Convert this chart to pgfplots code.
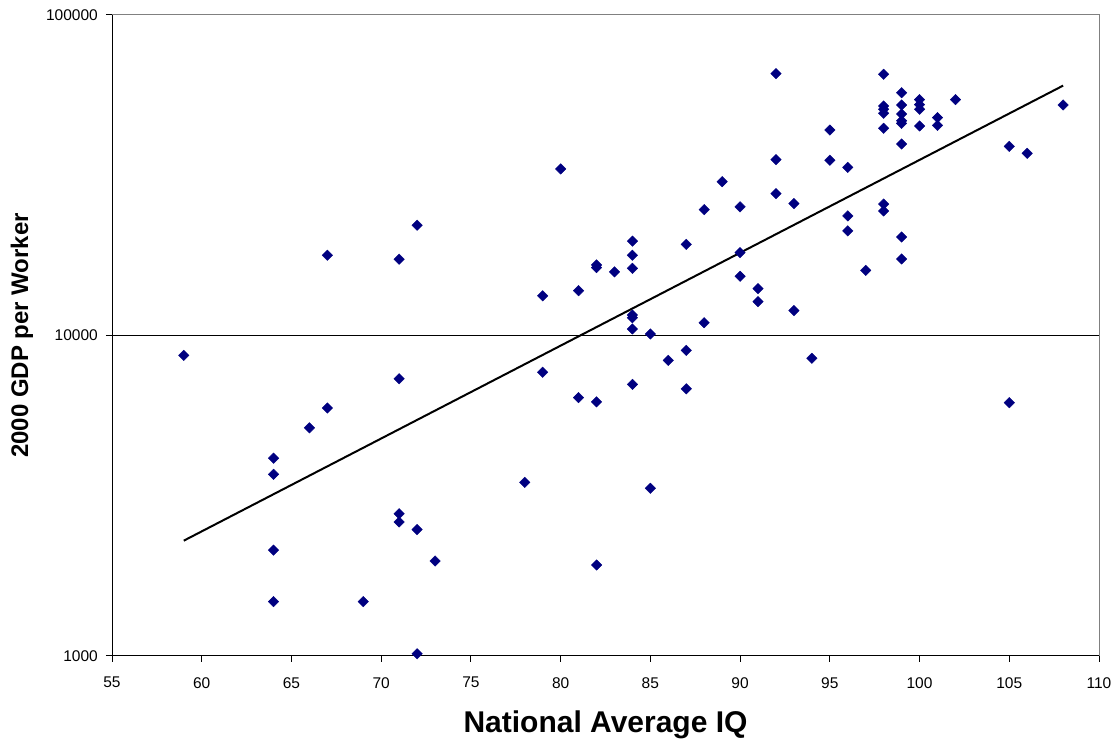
\documentclass[border=0pt]{standalone}
\usepackage{fontspec}
\setmainfont{Liberation Sans}
\usepackage{pgfplots}
\pgfplotsset{compat=1.18}
\definecolor{navyblue}{HTML}{000080}
\begin{document}
\begin{tikzpicture}
\useasboundingbox (0,0) rectangle (1119pt,742pt);
\begin{axis}[
  at={(112pt,86pt)}, anchor=south west,
  scale only axis, width=987pt, height=641pt,
  xmin=55, xmax=110,
  ymode=log, ymin=1000, ymax=100000,
  axis lines*=left,
  axis line style={black, line width=1pt},
  xtick={55,60,...,110},
  ytick={1000,10000,100000},
  yticklabels={1000,10000,100000},
  yminorticks=false,
  xminorticks=false,
  tick align=outside,
  major tick length=6pt,
  tick style={black, line width=1pt},
  /pgf/number format/assume math mode=true,
  /pgf/number format/1000 sep={},
  xticklabel style={font=\fontsize{15.5}{18}\selectfont, anchor=north, inner sep=0pt, yshift=-15pt},
  yticklabel style={font=\fontsize{15.5}{18}\selectfont, anchor=east, inner sep=0pt, xshift=-8pt},
  ymajorgrids=true,
  major grid style={black, line width=1pt},
  xlabel={National Average IQ},
  ylabel={2000 GDP per Worker},
  every axis x label/.style={at={(axis description cs:0.5,0)}, anchor=base, yshift=-77pt, font=\fontsize{30}{35}\selectfont\bfseries},
  every axis y label/.style={at={([xshift=-90pt]axis description cs:0,0.5)}, rotate=90, anchor=center, font=\fontsize{24}{28}\selectfont\bfseries},
  clip=false,
  after end axis/.code={\draw[gray, line width=1pt] (rel axis cs:0,1) -- (rel axis cs:1,1) -- (rel axis cs:1,0);},
]
\addplot[only marks, mark=square*, mark size=3.7pt, mark options={rotate=45, fill=navyblue, draw=navyblue}] table {
x y
59 8670
64 4140
64 3690
64 2140
64 1477
66 5150
67 5940
67 17800
69 1477
71 17300
71 7330
71 2780
71 2620
72 22080
72 2480
72 1016
73 1979
78 3480
79 13300
79 7680
80 33100
81 13800
81 6400
82 16600
82 16290
82 6210
82 1923
83 15800
84 19700
84 17800
84 16200
84 11590
84 11360
84 10480
84 7040
85 10110
85 3335
86 8365
87 19250
87 8990
87 6820
88 24700
88 10960
89 30200
90 25200
90 18140
90 15300
91 14000
91 12760
92 65600
92 35370
92 27700
93 25800
93 11960
94 8490
95 43750
95 35220
96 33480
96 23600
96 21200
97 15970
98 65300
98 52000
98 50800
98 49350
98 44300
98 25700
98 24460
99 57230
99 52400
99 49100
99 46800
99 45900
99 39580
99 20290
99 17330
100 54420
100 52500
100 50800
100 45050
101 47800
101 45250
102 54420
105 38920
105 6170
106 37030
108 52400
};
\addplot[black, line width=2pt, no marks] coordinates {(59,2290) (108,60200)};
\end{axis}
\end{tikzpicture}
\end{document}
